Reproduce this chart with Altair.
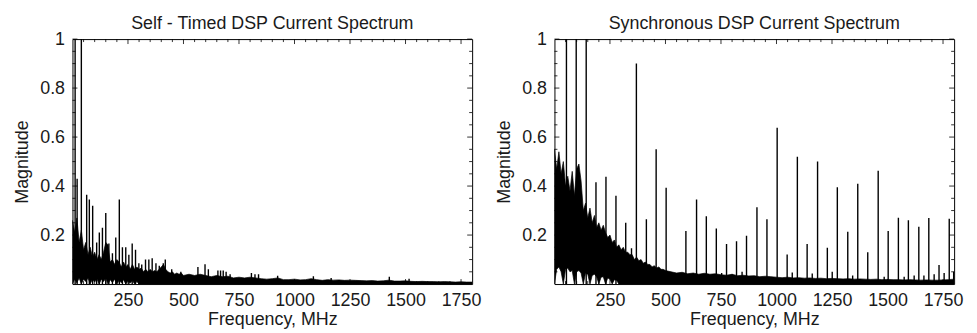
import altair as alt
import pandas as pd

# ---------------- data ----------------
# dense noise floor: frequency grid (MHz), upper and lower edge of the black band
noise_freq = [0, 10, 20, 30, 40, 50, 60, 70, 80, 90, 100, 110, 120, 130, 140, 150, 160, 170, 180, 190,
              200, 210, 220, 230, 240, 250, 260, 270, 280, 290, 300, 310, 320, 330, 340, 350, 360, 370,
              380, 390, 400, 410, 420, 430, 440, 450, 460, 470, 480, 490, 500,
              525, 550, 575, 600, 625, 650, 675, 700, 725, 750, 775, 800, 825, 850, 875, 900, 925, 950,
              975, 1000, 1025, 1050, 1075, 1100, 1125, 1150, 1175, 1200, 1225, 1250, 1275, 1300, 1325,
              1350, 1375, 1400, 1425, 1450, 1475, 1500, 1525, 1550, 1575, 1600, 1625, 1650, 1675, 1700,
              1725, 1750, 1775, 1800]

# Self-Timed DSP
st_noise_hi = [0.26, 0.21, 0.27, 0.17, 0.22, 0.14, 0.17, 0.12, 0.15, 0.11, 0.13, 0.10, 0.12, 0.10, 0.13,
               0.17, 0.16, 0.09, 0.10, 0.08, 0.10, 0.09, 0.07, 0.09, 0.07, 0.08, 0.06, 0.08, 0.06, 0.07,
               0.06, 0.065, 0.05, 0.06, 0.05, 0.06, 0.05, 0.055, 0.05, 0.06, 0.07, 0.08, 0.06, 0.05, 0.045,
               0.05, 0.04, 0.045, 0.04, 0.045, 0.035,
               0.04, 0.035, 0.04, 0.035, 0.03, 0.035, 0.03, 0.032, 0.025, 0.028, 0.025, 0.028, 0.025,
               0.022, 0.02, 0.022, 0.025, 0.018, 0.018, 0.02, 0.017, 0.018, 0.022, 0.018, 0.015, 0.018,
               0.016, 0.017, 0.015, 0.016, 0.015, 0.014, 0.013, 0.014, 0.012, 0.013, 0.016, 0.012, 0.012,
               0.013, 0.011, 0.01, 0.011, 0.01, 0.01, 0.009, 0.01, 0.009, 0.008, 0.009, 0.008, 0.008]
st_noise_lo = [0.0, 0.02, 0.005, 0.025, 0.0, 0.02, 0.01, 0.025, 0.0, 0.02, 0.008, 0.022, 0.0, 0.02, 0.01,
               0.024, 0.0, 0.018, 0.006, 0.02, 0.0, 0.015, 0.005, 0.018, 0.0, 0.012, 0.004, 0.014, 0.0,
               0.01, 0.0, 0.0, 0.0, 0.0, 0.0, 0.0, 0.0, 0.0, 0.0, 0.0, 0.0, 0.0, 0.0, 0.0, 0.0, 0.0, 0.0,
               0.0, 0.0, 0.0, 0.0,
               0.0, 0.0, 0.0, 0.0, 0.0, 0.0, 0.0, 0.0, 0.0, 0.0, 0.0, 0.0, 0.0, 0.0, 0.0, 0.0, 0.0, 0.0,
               0.0, 0.0, 0.0, 0.0, 0.0, 0.0, 0.0, 0.0, 0.0, 0.0, 0.0, 0.0, 0.0, 0.0, 0.0, 0.0, 0.0, 0.0,
               0.0, 0.0, 0.0, 0.0, 0.0, 0.0, 0.0, 0.0, 0.0, 0.0, 0.0, 0.0, 0.0, 0.0, 0.0, 0.0]
st_spike_freq = [12, 21, 40, 64, 76, 91, 109, 121, 135, 150, 164, 180, 195, 211, 225, 240, 254, 269, 284,
                 299, 312, 329, 344, 359, 376, 391, 409, 418, 447, 488, 565, 597, 612, 655, 667, 679, 692,
                 710, 806, 822, 838, 924, 1085, 1165, 1427, 1516]
st_spike_mag = [1.0, 0.43, 1.0, 0.365, 0.345, 0.32, 0.17, 0.21, 0.23, 0.29, 0.166, 0.126, 0.19, 0.345,
                0.15, 0.15, 0.12, 0.166, 0.14, 0.085, 0.08, 0.10, 0.10, 0.105, 0.085, 0.075, 0.085, 0.10,
                0.06, 0.05, 0.07, 0.081, 0.06, 0.055, 0.055, 0.055, 0.05, 0.04, 0.045, 0.04, 0.04, 0.034,
                0.032, 0.025, 0.03, 0.022]

# Synchronous DSP
sy_noise_hi = [0.55, 0.47, 0.54, 0.45, 0.50, 0.40, 0.44, 0.38, 0.46, 0.36, 0.47, 0.49, 0.42, 0.30, 0.33,
               0.27, 0.31, 0.25, 0.28, 0.23, 0.25, 0.22, 0.24, 0.21, 0.19, 0.20, 0.17, 0.18, 0.15, 0.16,
               0.14, 0.15, 0.13, 0.13, 0.12, 0.12, 0.10, 0.11, 0.095, 0.10, 0.085, 0.09, 0.08, 0.08, 0.07,
               0.075, 0.065, 0.07, 0.06, 0.06, 0.055,
               0.05, 0.045, 0.048, 0.042, 0.045, 0.04, 0.044, 0.04, 0.042, 0.038, 0.036, 0.04, 0.034,
               0.036, 0.033, 0.034, 0.03, 0.032, 0.03, 0.028, 0.026, 0.028, 0.025, 0.026, 0.024, 0.025,
               0.023, 0.024, 0.022, 0.023, 0.022, 0.021, 0.022, 0.02, 0.021, 0.02, 0.019, 0.02, 0.018,
               0.019, 0.018, 0.018, 0.017, 0.018, 0.017, 0.016, 0.017, 0.016, 0.016, 0.017, 0.018, 0.02]
sy_noise_lo = [0.0, 0.06, 0.07, 0.05, 0.0, 0.06, 0.065, 0.05, 0.055, 0.0, 0.05, 0.055, 0.045, 0.0, 0.045,
               0.04, 0.0, 0.035, 0.04, 0.03, 0.0, 0.028, 0.03, 0.0, 0.025, 0.02, 0.0, 0.018, 0.015, 0.0,
               0.0, 0.0, 0.0, 0.0, 0.0, 0.0, 0.0, 0.0, 0.0, 0.0, 0.0, 0.0, 0.0, 0.0, 0.0, 0.0, 0.0, 0.0,
               0.0, 0.0, 0.0,
               0.0, 0.0, 0.0, 0.0, 0.0, 0.0, 0.0, 0.0, 0.0, 0.0, 0.0, 0.0, 0.0, 0.0, 0.0, 0.0, 0.0, 0.0,
               0.0, 0.0, 0.0, 0.0, 0.0, 0.0, 0.0, 0.0, 0.0, 0.0, 0.0, 0.0, 0.0, 0.0, 0.0, 0.0, 0.0, 0.0,
               0.0, 0.0, 0.0, 0.0, 0.0, 0.0, 0.0, 0.0, 0.0, 0.0, 0.0, 0.0, 0.0, 0.0, 0.0, 0.0]
sy_spike_freq = [54, 98, 143, 187, 232, 277, 321, 347, 369, 414, 458, 503, 592, 640, 684, 729, 753, 775,
                 800, 820, 845, 865, 912, 957, 1003, 1048, 1071, 1094, 1138, 1161, 1185, 1229, 1251, 1274,
                 1321, 1343, 1366, 1411, 1458, 1485, 1503, 1549, 1575, 1594, 1620, 1641, 1664, 1686, 1710,
                 1732, 1755, 1778, 1798]
sy_spike_mag = [1.0, 1.0, 1.0, 0.416, 0.438, 0.36, 0.25, 0.146, 0.90, 0.265, 0.55, 0.393, 0.217, 0.345,
                0.277, 0.227, 0.045, 0.163, 0.04, 0.175, 0.05, 0.197, 0.314, 0.265, 0.638, 0.121, 0.047,
                0.52, 0.163, 0.043, 0.50, 0.148, 0.05, 0.395, 0.213, 0.035, 0.409, 0.13, 0.463, 0.03,
                0.217, 0.271, 0.03, 0.26, 0.035, 0.234, 0.035, 0.27, 0.04, 0.078, 0.045, 0.267, 0.05]

# axis ticks
x_major = [250, 500, 750, 1000, 1250, 1500, 1750]
x_minor = [50, 100, 150, 200, 300, 350, 400, 450, 550, 600, 650, 700, 800, 850, 900, 950, 1050, 1100,
           1150, 1200, 1300, 1350, 1400, 1450, 1550, 1600, 1650, 1700]
y_major = [0.2, 0.4, 0.6, 0.8, 1.0]
y_minor = [0.05, 0.1, 0.15, 0.25, 0.3, 0.35, 0.45, 0.5, 0.55, 0.65, 0.7, 0.75, 0.85, 0.9, 0.95]

# ---------------- chart ----------------
W, H = 403, 247
FONT = "Liberation Sans"
INK = "#000000"
xs = alt.Scale(domain=[0, 1800], nice=False, zero=False)
ys = alt.Scale(domain=[0, 1], nice=False)


def tick_layers():
    layers = []
    for vals, ln in ((x_major, 5), (x_minor, 3)):
        d = pd.DataFrame({"v": vals})
        layers.append(alt.Chart(d).mark_rule(color=INK, strokeWidth=0.8).encode(
            x=alt.X("v:Q", scale=xs), y=alt.value(H), y2=alt.value(H - ln)))
        layers.append(alt.Chart(d).mark_rule(color=INK, strokeWidth=0.8).encode(
            x=alt.X("v:Q", scale=xs), y=alt.value(0), y2=alt.value(ln)))
    for vals, ln in ((y_major, 5), (y_minor, 3)):
        d = pd.DataFrame({"v": vals})
        layers.append(alt.Chart(d).mark_rule(color=INK, strokeWidth=0.8).encode(
            y=alt.Y("v:Q", scale=ys), x=alt.value(0), x2=alt.value(ln)))
        layers.append(alt.Chart(d).mark_rule(color=INK, strokeWidth=0.8).encode(
            y=alt.Y("v:Q", scale=ys), x=alt.value(W), x2=alt.value(W - ln)))
    return layers


def panel(title, hi, lo, sf, sm):
    noise = pd.DataFrame({"f": noise_freq, "hi": hi, "lo": lo})
    spikes = pd.DataFrame({"f": sf, "m": sm})
    xaxis = alt.Axis(values=x_major, format="d", title="Frequency, MHz", ticks=False, domain=False,
                     grid=False, labelFont=FONT, labelFontSize=18, labelColor="#1a1a1a", labelPadding=8,
                     titleFont=FONT, titleFontSize=18, titleFontWeight="normal", titleColor="#1a1a1a",
                     titlePadding=1, labelFlush=False)
    yaxis = alt.Axis(values=y_major, format="~g", title="Magnitude", ticks=False, domain=False, grid=False,
                     labelFont=FONT, labelFontSize=18, labelColor="#1a1a1a", labelPadding=8,
                     titleFont=FONT, titleFontSize=18, titleFontWeight="normal", titleColor="#1a1a1a",
                     titlePadding=8, labelFlush=False)
    area = alt.Chart(noise).mark_area(color=INK, stroke=INK, strokeWidth=0.7, clip=True).encode(
        x=alt.X("f:Q", scale=xs, axis=xaxis),
        y=alt.Y("hi:Q", scale=ys, axis=yaxis),
        y2="lo:Q")
    rules = alt.Chart(spikes).mark_rule(color=INK, strokeWidth=1.4, clip=True).encode(
        x=alt.X("f:Q", scale=xs),
        y=alt.Y("m:Q", scale=ys),
        y2=alt.datum(0))
    return alt.layer(area, rules, *tick_layers()).properties(
        width=W, height=H,
        title=alt.TitleParams(title, font=FONT, fontSize=18, fontWeight="normal", color="#1a1a1a",
                              anchor="middle", offset=-3))


chart = alt.hconcat(
    panel("Self - Timed DSP Current Spectrum", st_noise_hi, st_noise_lo, st_spike_freq, st_spike_mag),
    panel("Synchronous DSP Current Spectrum", sy_noise_hi, sy_noise_lo, sy_spike_freq, sy_spike_mag),
    spacing=83, bounds="flush"
).configure_view(stroke=INK, strokeWidth=1).properties(
    background="white", padding={"left": 5, "top": 5, "right": 5, "bottom": 0})

chart.save("out.html", embed_options={"renderer": "svg", "actions": False})
